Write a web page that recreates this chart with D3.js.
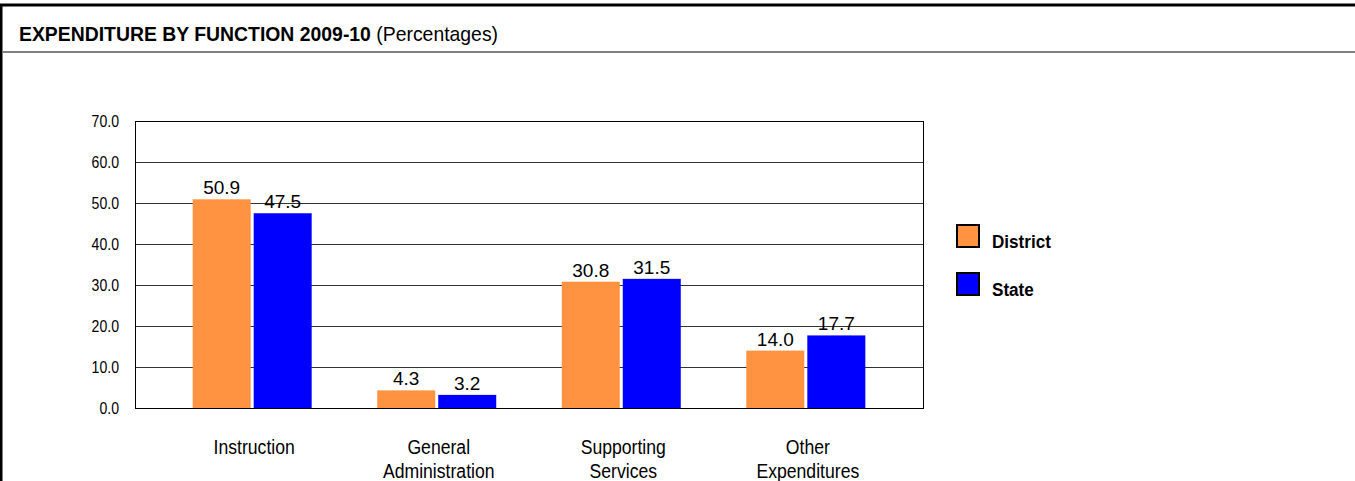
<!DOCTYPE html>
<html>
<head>
<meta charset="utf-8">
<script src="https://cdn.jsdelivr.net/npm/d3@7"></script>
<style>
  body { margin: 0; background: #fff; }
  text { font-family: "Liberation Sans", Arial, sans-serif; fill: #000; }
</style>
</head>
<body>
<svg width="1355" height="481"></svg>
<script>
// chart data
var categories = [["Instruction"], ["General", "Administration"], ["Supporting", "Services"], ["Other", "Expenditures"]];
var seriesNames = ["District", "State"];
var districtValues = [50.9, 4.3, 30.8, 14.0];
var stateValues = [47.5, 3.2, 31.5, 17.7];
var yTicks = [0, 10, 20, 30, 40, 50, 60, 70];
var colors = ["#ff9341", "#0000ff"];

var svg = d3.select("svg");

// the source picture is a bit condensed, so text gets squeezed horizontally
function squeeze(sel, x, y, sx) {
  return sel.attr("transform", "translate(" + x + "," + y + ") scale(" + sx + ",1)");
}

// frame
svg.append("line").attr("x1", 0).attr("x2", 1355).attr("y1", 5).attr("y2", 5)
  .attr("stroke", "#000").attr("stroke-width", 3);
svg.append("line").attr("x1", 1).attr("x2", 1).attr("y1", 4).attr("y2", 481)
  .attr("stroke", "#000").attr("stroke-width", 3);
svg.append("line").attr("x1", 2).attr("x2", 1355).attr("y1", 52).attr("y2", 52)
  .attr("stroke", "#808080").attr("stroke-width", 2);

var title = squeeze(svg.append("text"), 19, 41, 0.97).style("font-size", "20px");
title.append("tspan").style("font-weight", "bold").text("EXPENDITURE BY FUNCTION 2009-10");
title.append("tspan").text(" (Percentages)");

var plotL = 135, plotR = 923, plotT = 121, plotB = 408;

var x = d3.scaleBand().domain(d3.range(categories.length))
  .range([plotL, plotR]).paddingInner(0).paddingOuter(0.135);
var y = d3.scaleLinear().domain([0, 70]).range([plotB, plotT]);

// gridlines
svg.append("g").selectAll("line").data(yTicks).enter().append("line")
  .attr("x1", plotL).attr("x2", plotR)
  .attr("y1", function(d) { return Math.round(y(d)) + 0.5; })
  .attr("y2", function(d) { return Math.round(y(d)) + 0.5; })
  .attr("stroke", "#333").attr("stroke-width", 1);

// y axis labels
var yAxis = svg.append("g").attr("transform", "translate(" + plotL + ",0)")
  .call(d3.axisLeft(y).tickValues(yTicks).tickSize(0).tickFormat(d3.format(".1f")));
yAxis.select(".domain").remove();
yAxis.selectAll(".tick text").each(function() {
  var t = d3.select(this);
  squeeze(t, -16, 0, 0.88).attr("x", 0).attr("dy", "0.36em")
    .style("font-size", "16px").style("font-family", "Liberation Sans, Arial, sans-serif")
    .attr("fill", "#000");
});

// bars
var barW = 58, gap = 3;
var groups = svg.append("g").selectAll("g").data(categories).enter().append("g")
  .attr("transform", function(d, i) { return "translate(" + (x(i) + x.bandwidth() / 2) + ",0)"; });

[districtValues, stateValues].forEach(function(vals, s) {
  groups.append("rect")
    .attr("x", s === 0 ? -barW - gap / 2 : gap / 2)
    .attr("width", barW)
    .attr("y", function(d, i) { return y(vals[i]); })
    .attr("height", function(d, i) { return plotB - y(vals[i]); })
    .attr("fill", colors[s]);
  groups.append("text")
    .attr("x", s === 0 ? -barW / 2 - gap / 2 : barW / 2 + gap / 2)
    .attr("y", function(d, i) { return y(vals[i]) - 5; })
    .attr("text-anchor", "middle").style("font-size", "19px")
    .text(function(d, i) { return vals[i].toFixed(1); });
});

// plot border
svg.append("rect").attr("x", plotL + 0.5).attr("y", plotT + 0.5)
  .attr("width", plotR - plotL).attr("height", plotB - plotT)
  .attr("fill", "none").attr("stroke", "#000").attr("stroke-width", 1);

// category labels
groups.each(function(d) {
  var g = d3.select(this);
  d.forEach(function(line, j) {
    squeeze(g.append("text"), 2, 454 + j * 24, 0.84)
      .attr("text-anchor", "middle").style("font-size", "21px").text(line);
  });
});

// legend
var legend = svg.append("g").selectAll("g").data(seriesNames).enter().append("g")
  .attr("transform", function(d, i) { return "translate(957," + (225 + i * 48) + ")"; });
legend.append("rect").attr("width", 22).attr("height", 22)
  .attr("fill", function(d, i) { return colors[i]; })
  .attr("stroke", "#000").attr("stroke-width", 2);
legend.each(function(d) {
  squeeze(d3.select(this).append("text"), 35, 23, 0.9)
    .style("font-size", "19px").style("font-weight", "bold").text(d);
});
</script>
</body>
</html>
